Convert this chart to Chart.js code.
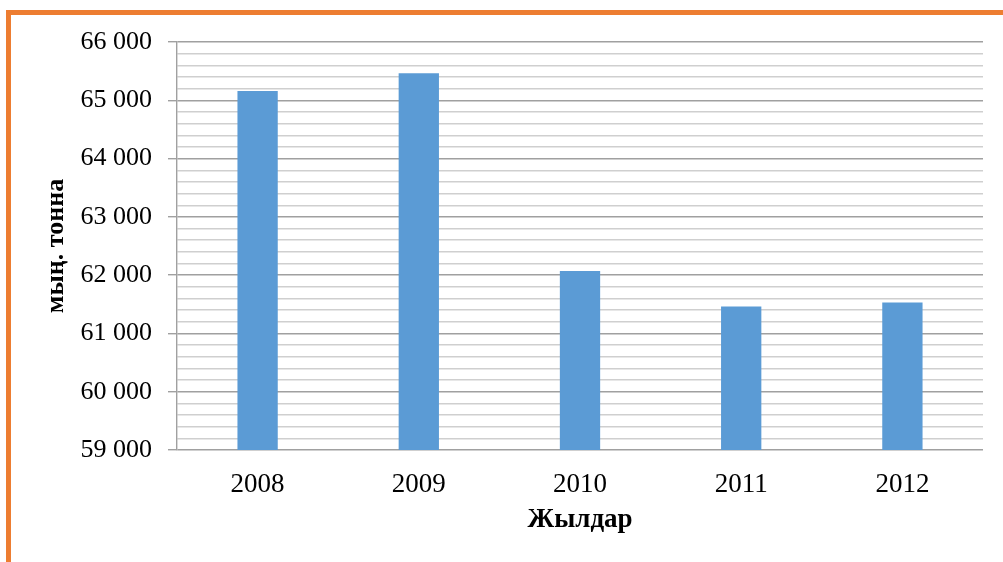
<!DOCTYPE html>
<html>
<head>
<meta charset="utf-8">
<script src="https://cdn.jsdelivr.net/npm/chart.js@4"></script>
<style>
  html, body { margin: 0; padding: 0; background: #fff; }
  #wrap { position: relative; width: 1003px; height: 562px; overflow: hidden; }
  #frame { position: absolute; left: 6px; top: 10px; right: -10px; bottom: -10px;
           border-top: 5px solid #ED7D31; border-left: 5px solid #ED7D31; pointer-events: none; }
  canvas { position: absolute; left: 0; top: 0; }
</style>
</head>
<body>
<div id="wrap">
  <canvas id="c" width="1003" height="562"></canvas>
  <div id="frame"></div>
</div>
<script>
const years = ['2008', '2009', '2010', '2011', '2012'];
const values = [65160, 65465, 62070, 61462, 61530];
const yMin = 59000;
const yMax = 66000;
const yMinorStep = 200;
const yTickLabels = ['59 000', '60 000', '61 000', '62 000', '63 000', '64 000', '65 000', '66 000'];
const yTitle = 'мың. тонна';
const xTitle = 'Жылдар';

const serif = "'Liberation Serif', 'Times New Roman', serif";
const isMajor = v => Math.abs(v % 1000) < 1e-6;

new Chart(document.getElementById('c'), {
  type: 'bar',
  data: {
    labels: years,
    datasets: [{
      data: values,
      backgroundColor: '#5B9BD5',
      borderWidth: 0,
      categoryPercentage: 1,
      barPercentage: 0.25
    }]
  },
  options: {
    responsive: false,
    animation: false,
    devicePixelRatio: 1,
    layout: { padding: { left: 41, right: 20, top: 42, bottom: 26 } },
    plugins: { legend: { display: false }, tooltip: { enabled: false } },
    scales: {
      x: {
        grid: { display: false, drawTicks: false },
        border: { display: false },
        ticks: { color: '#000', font: { family: serif, size: 27 }, padding: 19 },
        title: { display: true, text: xTitle, color: '#000',
                 font: { family: serif, size: 27, weight: 'bold' }, padding: 0 },
        afterFit: s => { s.height = 562 - 26 - 450; }
      },
      y: {
        min: yMin,
        max: yMax,
        grid: {
          color: c => isMajor(c.tick.value) ? '#A0A0A0' : '#CFCFCF',
          tickColor: c => isMajor(c.tick.value) ? '#A0A0A0' : 'rgba(0,0,0,0)',
          tickLength: 9,
          lineWidth: 1.4
        },
        border: { display: true, color: '#A0A0A0', width: 1.4 },
        ticks: {
          stepSize: yMinorStep,
          autoSkip: false,
          color: '#000',
          font: { family: serif, size: 26 },
          padding: 16,
          callback: v => isMajor(v) ? yTickLabels[Math.round((v - yMin) / 1000)] : ''
        },
        title: { display: true, text: yTitle, color: '#000',
                 font: { family: serif, size: 26, weight: 'bold' }, padding: 0 },
        afterFit: s => { s.width = 177 - 41; }
      }
    }
  }
});
</script>
</body>
</html>
